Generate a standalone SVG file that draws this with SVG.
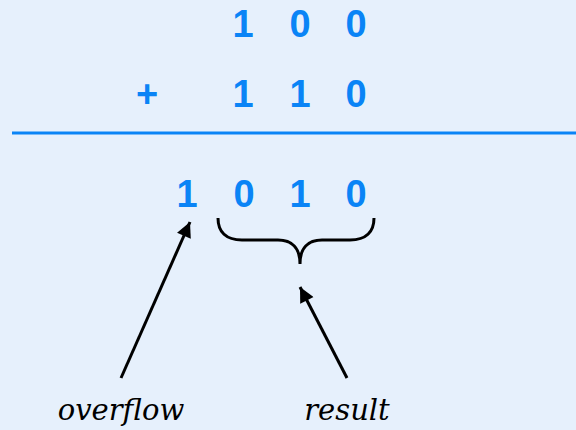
<svg xmlns="http://www.w3.org/2000/svg" width="576" height="430" viewBox="0 0 576 430">
<style>
.d{font-family:"Liberation Sans",Roboto,Arial,sans-serif;font-weight:700;font-size:38px;fill:#0A84F6;text-anchor:middle}
.l{font-family:"DejaVu Serif","Liberation Serif",serif;font-style:italic;font-size:29px;fill:#000;text-anchor:middle}
.c{stroke:#000;stroke-width:3;fill:none}
</style>
<defs>
<marker id="ah" viewBox="0 0 10 10" refX="10" refY="5" markerWidth="7" markerHeight="5" markerUnits="strokeWidth" orient="auto">
<path d="M0,0 L10,5 L0,10 z" fill="#000"/>
</marker>
</defs>
<rect width="576" height="430" fill="#E6F0FC"/>
<g id="row1">
<text class="d" x="243" y="37">1</text>
<text class="d" x="300" y="37">0</text>
<text class="d" x="356" y="37">0</text>
</g>
<g id="row2">
<text class="d" x="147" y="107">+</text>
<text class="d" x="243" y="107">1</text>
<text class="d" x="300" y="107">1</text>
<text class="d" x="356" y="107">0</text>
</g>
<line x1="12" y1="133" x2="576" y2="133" stroke="#0A84F6" stroke-width="3"/>
<g id="sum">
<text class="d" x="187" y="207">1</text>
<text class="d" x="244" y="207">0</text>
<text class="d" x="300" y="207">1</text>
<text class="d" x="356" y="207">0</text>
</g>
<g id="brace">
<path class="c" d="M218,218 C218,232 226,240 242,240 L278,240 C292,240 300,248 300,264 C300,248 308,240 322,240 L350,240 C366,240 374,232 374,218"/>
</g>
<g id="connectors">
<line class="c" x1="121" y1="378" x2="190" y2="222" marker-end="url(#ah)"/>
<line class="c" x1="347" y1="378" x2="300" y2="287" marker-end="url(#ah)"/>
</g>
<g id="overflow"><text class="l" x="121" y="420">overflow</text></g>
<g id="result"><text class="l" x="347" y="420">result</text></g>
</svg>
